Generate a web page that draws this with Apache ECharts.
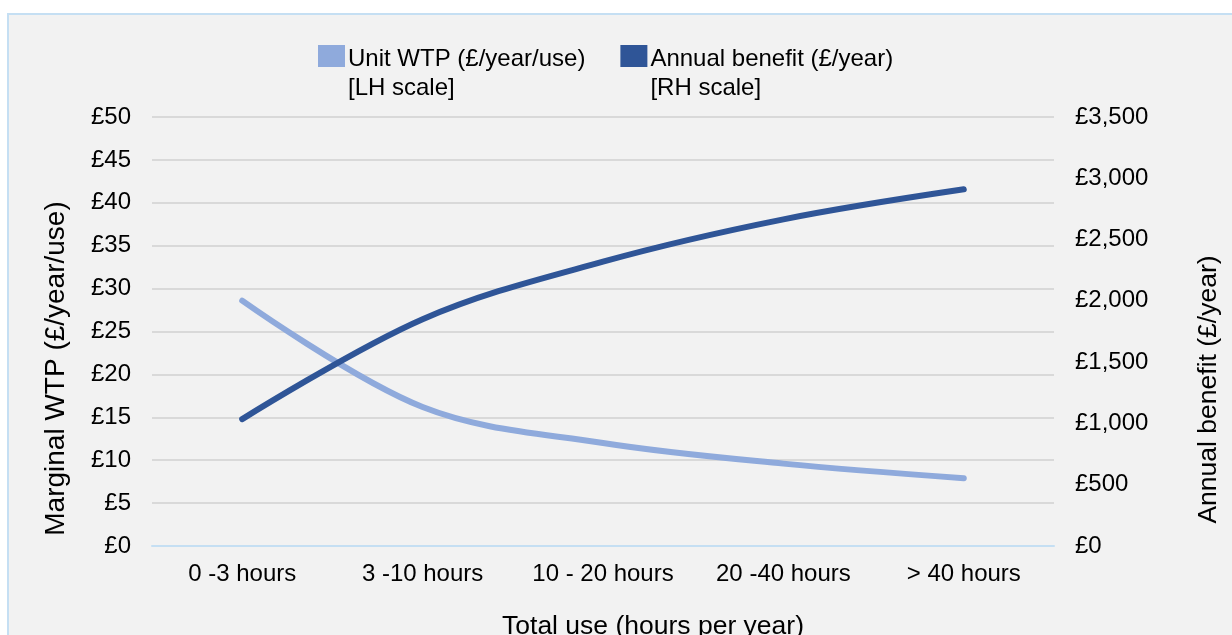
<!DOCTYPE html>
<html>
<head>
<meta charset="utf-8">
<script src="https://cdn.jsdelivr.net/npm/echarts@6/dist/echarts.min.js"></script>
<style>
  html, body { margin: 0; padding: 0; background: #fff; }
  #chart { width: 1232px; height: 635px; }
</style>
</head>
<body>
<div id="chart"></div>
<script>
// categories on the x axis
const usageBands = ['0 -3 hours', '3 -10 hours', '10 - 20 hours', '20 -40 hours', '> 40 hours']
// Unit WTP (£/year/use), left scale
const unitWtp = [28.6, 16.2, 12.0, 9.6, 7.9]
// Annual benefit (£/year), right scale
const annualBenefit = [1035, 1850, 2320, 2665, 2910]
const seriesNames = ['Unit WTP (£/year/use)', 'Annual benefit (£/year)']
const scaleNotes = ['[LH scale]', '[RH scale]']

const FONT = '"Liberation Sans", Arial, sans-serif'
const LIGHT = '#8faadc'
const DARK = '#2f5597'

function pounds(v) {
  return '£' + v.toString().replace(/\B(?=(\d{3})+(?!\d))/g, ',')
}

const chart = echarts.init(document.getElementById('chart'))

const option = {
  animation: false,
  textStyle: { fontFamily: FONT },
  graphic: [
    {
      type: 'rect',
      z: -10,
      shape: { x: 8, y: 14, width: 1240, height: 640 },
      style: { fill: '#f2f2f2', stroke: '#c5dff3', lineWidth: 2 }
    }
  ],
  legend: {
    left: 313,
    top: 40,
    itemWidth: 27,
    itemHeight: 58,
    itemGap: 35,
    // rect on the first text line only, the lone move-to keeps the full height
    icon: 'path://M0,58 M0,0 L27,0 L27,22 L0,22 Z',
    formatter: function (name) {
      return name + '\n' + scaleNotes[seriesNames.indexOf(name)]
    },
    textStyle: { fontSize: 24, lineHeight: 29, color: '#000', fontFamily: FONT, padding: [0, 0, 0, -2] },
    data: seriesNames
  },
  grid: { left: 152, right: 178, top: 117, bottom: 89, outerBoundsMode: 'none', containLabel: false },
  xAxis: {
    type: 'category',
    data: usageBands,
    boundaryGap: true,
    axisLine: { lineStyle: { color: '#c5dff3', width: 2 } },
    axisTick: { show: false },
    axisLabel: { fontSize: 24, color: '#000', margin: 16, interval: 0, fontFamily: FONT },
    name: 'Total use (hours per year)',
    nameLocation: 'middle',
    nameGap: 67,
    nameTextStyle: { fontSize: 26.5, color: '#000', padding: [0, 0, 0, 100], fontFamily: FONT }
  },
  yAxis: [
    {
      type: 'value',
      min: 0,
      max: 50,
      interval: 5,
      axisLine: { show: false },
      axisTick: { show: false },
      splitLine: { lineStyle: { color: '#d9d9d9', width: 2 } },
      axisLabel: { fontSize: 24, color: '#000', margin: 21, formatter: pounds, fontFamily: FONT },
      name: 'Marginal WTP (£/year/use)',
      nameLocation: 'middle',
      nameGap: 82,
      nameTextStyle: { fontSize: 28, color: '#000', padding: [0, 74, 0, 0], fontFamily: FONT }
    },
    {
      type: 'value',
      min: 0,
      max: 3500,
      interval: 500,
      axisLine: { show: false },
      axisTick: { show: false },
      splitLine: { show: false },
      axisLabel: { fontSize: 24, color: '#000', margin: 21, formatter: pounds, fontFamily: FONT },
      name: 'Annual benefit (£/year)',
      nameLocation: 'middle',
      nameGap: 141,
      nameTextStyle: { fontSize: 26.5, color: '#000', padding: [0, 116, 0, 0], fontFamily: FONT }
    }
  ],
  series: [
    {
      name: seriesNames[0],
      type: 'line',
      yAxisIndex: 0,
      data: unitWtp,
      smooth: 0.35,
      symbol: 'none',
      color: LIGHT,
      lineStyle: { color: LIGHT, width: 6, cap: 'round' }
    },
    {
      name: seriesNames[1],
      type: 'line',
      yAxisIndex: 1,
      data: annualBenefit,
      smooth: 0.35,
      symbol: 'none',
      color: DARK,
      lineStyle: { color: DARK, width: 6, cap: 'round' }
    }
  ]
}

chart.setOption(option)
</script>
</body>
</html>
